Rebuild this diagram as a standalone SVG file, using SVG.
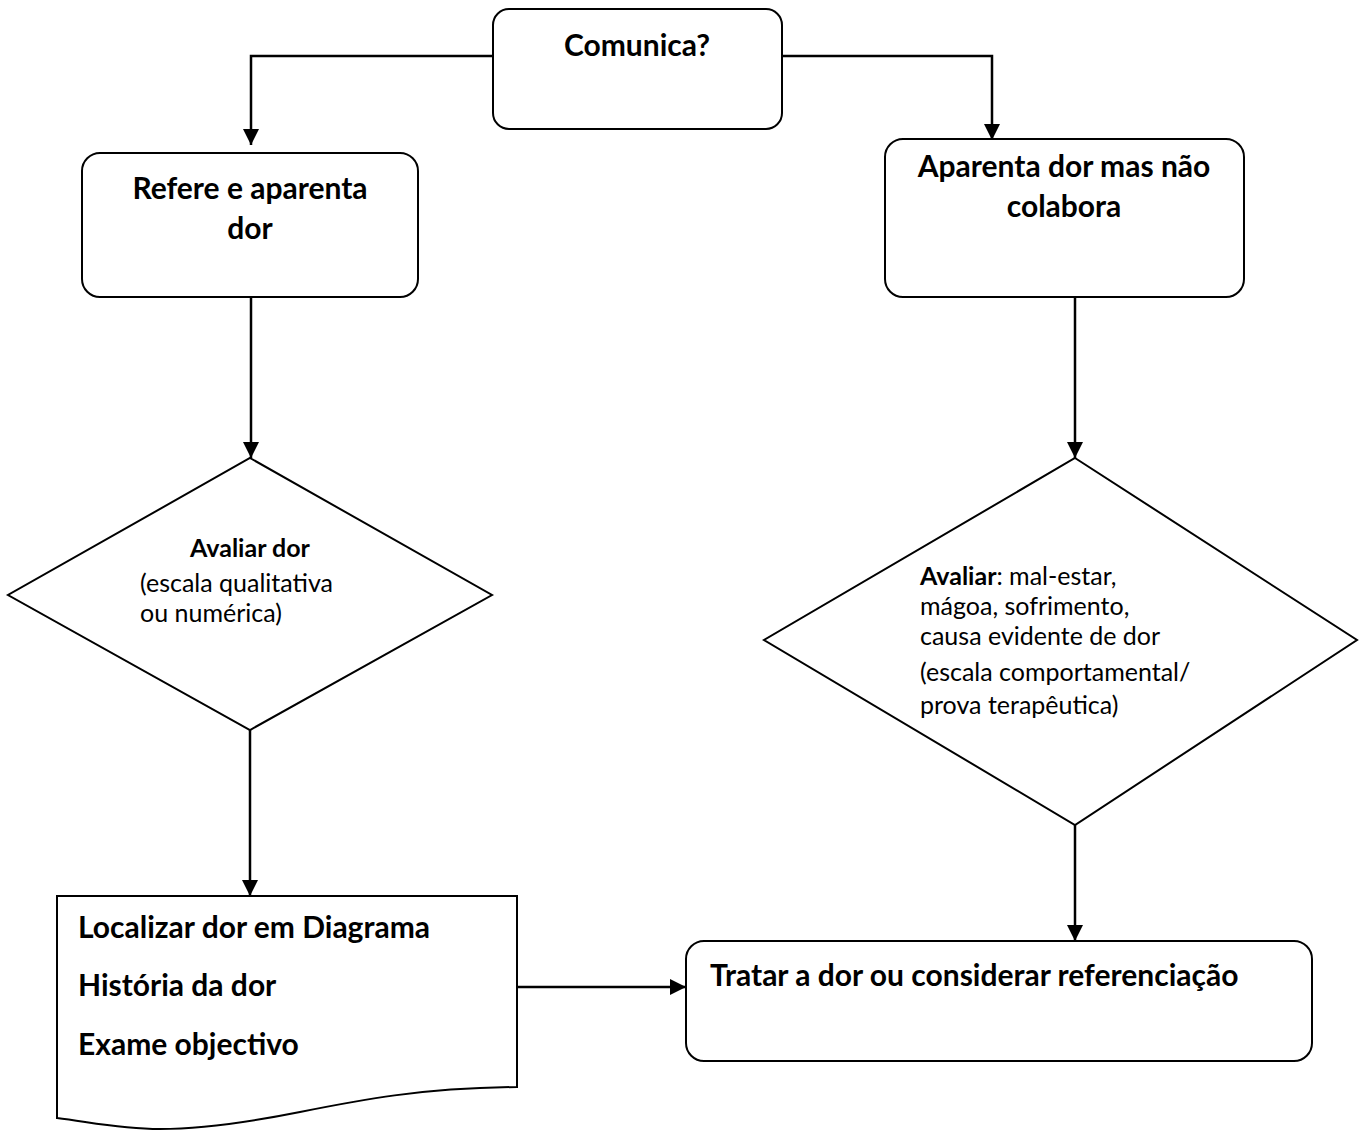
<svg xmlns="http://www.w3.org/2000/svg" width="1360" height="1130" viewBox="0 0 1360 1130">
<defs>
<marker id="ah" viewBox="0 0 10 10" refX="10" refY="5" markerWidth="6.4" markerHeight="6.4" orient="auto" markerUnits="strokeWidth">
<path d="M0,0 L10,5 L0,10 z" fill="#000"/>
</marker>
<style>
.shape{fill:#fff;stroke:#000;stroke-width:2}
.conn{fill:none;stroke:#000;stroke-width:2.5;marker-end:url(#ah)}
.b{font-family:Lato,"Open Sans","Liberation Sans",sans-serif;font-weight:bold;fill:#000}
.r{font-family:Lato,"Open Sans","Liberation Sans",sans-serif;fill:#000}
.big{font-size:30px}
.small{font-size:25px}
</style>
</defs>
<rect width="1360" height="1130" fill="#fff"/>
<g id="connectors">
<path class="conn" d="M493,56 H251 V145"/>
<path class="conn" d="M782,56 H992 V140"/>
<path class="conn" d="M251,297 V458"/>
<path class="conn" d="M1075,297 V458"/>
<path class="conn" d="M250,730 V896"/>
<path class="conn" d="M1075,825 V941"/>
<path class="conn" d="M516,987 H686"/>
</g>
<g id="n-comunica">
<rect class="shape" x="493" y="9" width="289" height="120" rx="16"/>
<text class="b big" x="637" y="56" text-anchor="middle">Comunica?</text>
</g>
<g id="n-refere">
<rect class="shape" x="82" y="153" width="336" height="144" rx="18"/>
<text class="b big" x="250" y="199" text-anchor="middle">Refere e aparenta</text>
<text class="b big" x="250" y="239" text-anchor="middle">dor</text>
</g>
<g id="n-aparenta">
<rect class="shape" x="885" y="139" width="359" height="158" rx="18"/>
<text class="b big" x="1064" y="177" text-anchor="middle">Aparenta dor mas não</text>
<text class="b big" x="1064" y="217" text-anchor="middle">colabora</text>
</g>
<g id="n-avaliar-dor">
<polygon class="shape" points="250,458 492,595 250,730 8,595"/>
<text class="b small" x="190" y="557">Avaliar dor</text>
<text class="r small" x="140" y="592">(escala qualitativa</text>
<text class="r small" x="140" y="622">ou numérica)</text>
</g>
<g id="n-avaliar-comport">
<polygon class="shape" points="1075,458 1357,640 1075,825 764,640"/>
<text class="r small" x="920" y="585"><tspan class="b">Avaliar</tspan>: mal-estar,</text>
<text class="r small" x="920" y="615">mágoa, sofrimento,</text>
<text class="r small" x="920" y="645">causa evidente de dor</text>
<text class="r small" x="920" y="681">(escala comportamental/</text>
<text class="r small" x="920" y="714">prova terapêutica)</text>
</g>
<g id="n-documento">
<path class="shape" d="M57,896 H517 V1087 C420,1088 360,1100 300,1112 C240,1124 200,1129 160,1129 C120,1129 90,1122 57,1118 Z"/>
<text class="b big" x="78" y="938">Localizar dor em Diagrama</text>
<text class="b big" x="78" y="996">História da dor</text>
<text class="b big" x="78" y="1055">Exame objectivo</text>
</g>
<g id="n-tratar">
<rect class="shape" x="686" y="941" width="626" height="120" rx="18"/>
<text class="b big" x="710" y="986">Tratar a dor ou considerar referenciação</text>
</g>
</svg>
